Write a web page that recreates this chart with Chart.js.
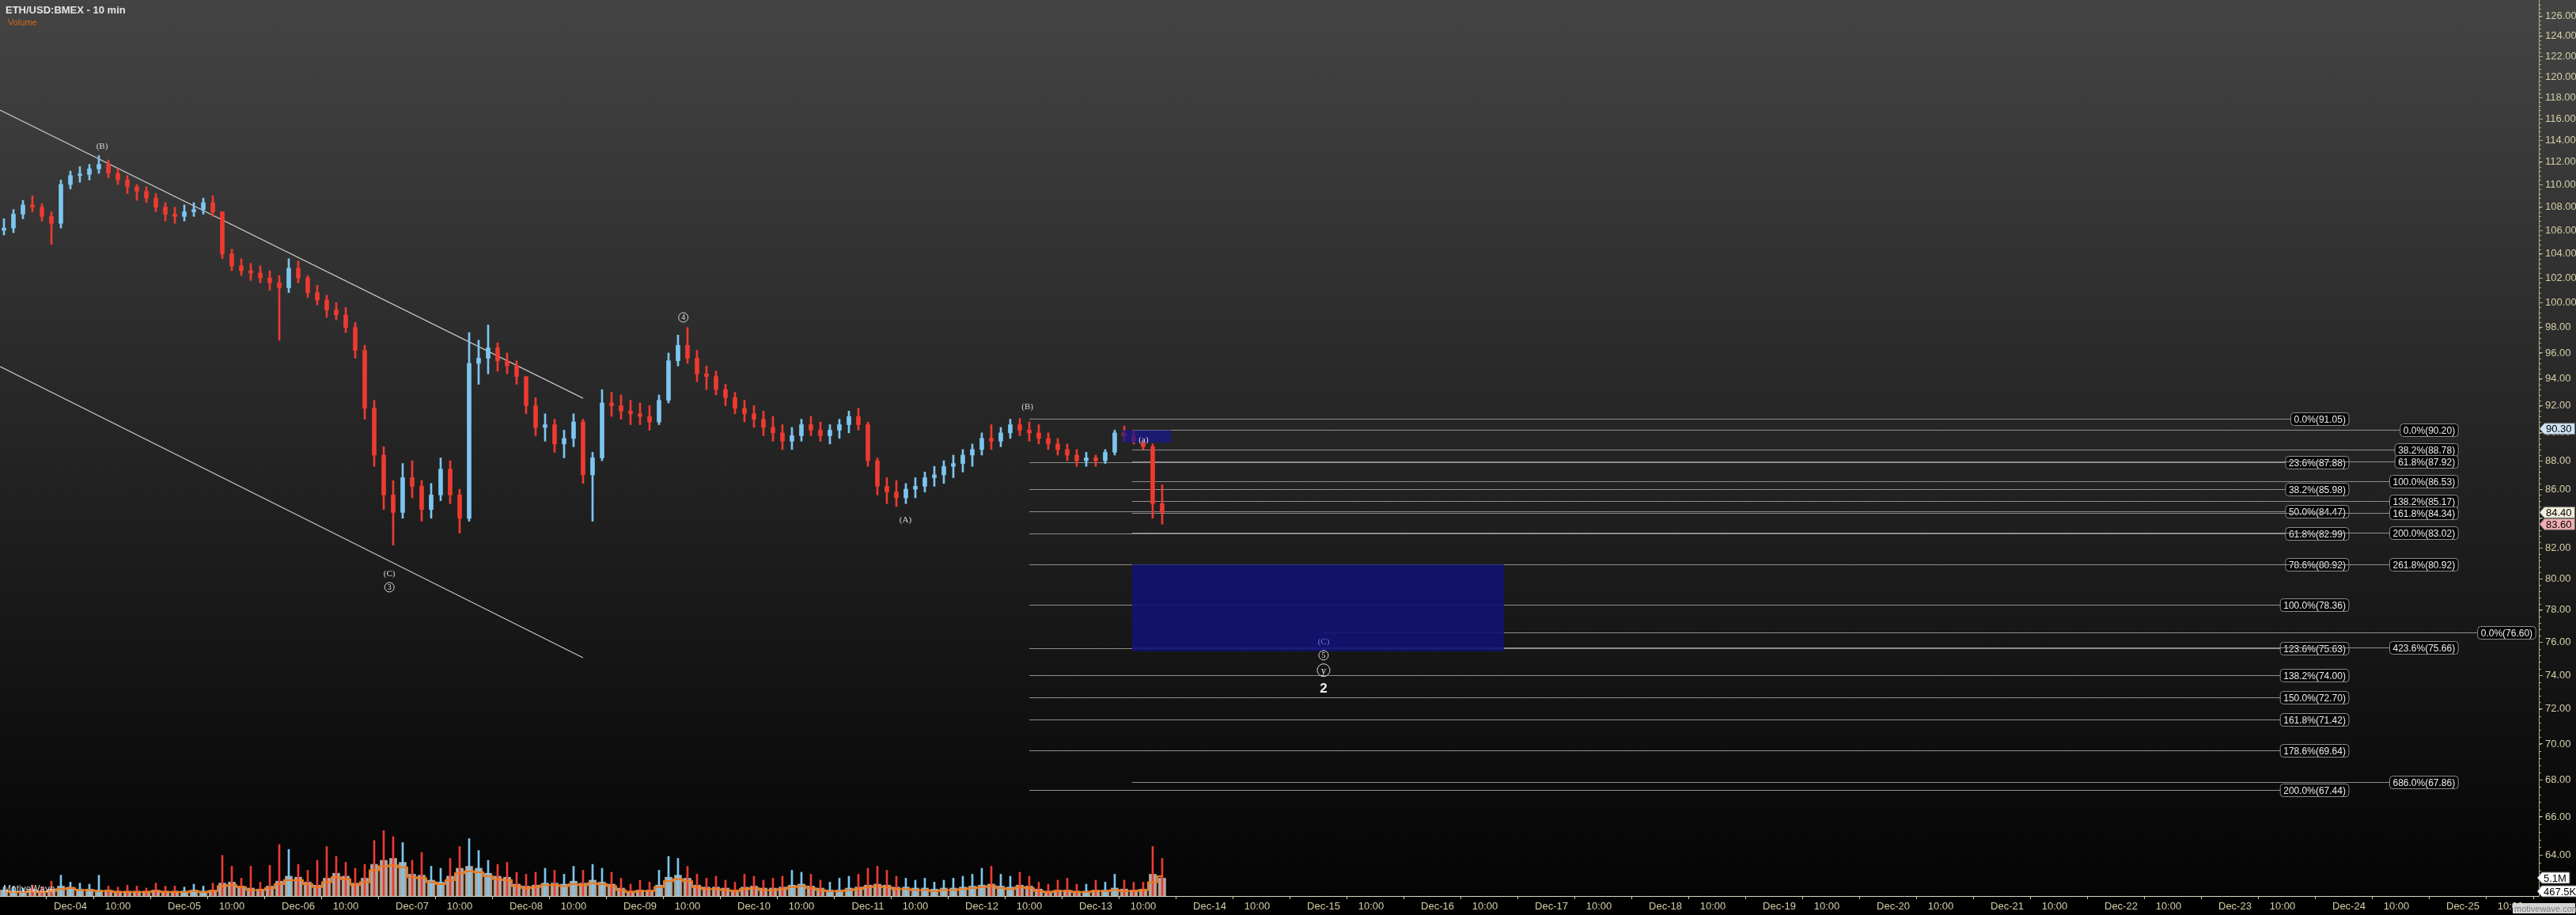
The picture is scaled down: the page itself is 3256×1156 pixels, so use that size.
<!DOCTYPE html>
<html>
<head>
<meta charset="utf-8">
<title>ETH/USD:BMEX - 10 min</title>
<script src="https://cdn.jsdelivr.net/npm/chart.js@4.4.1/dist/chart.umd.min.js"></script>
<style>
  html, body { margin: 0; padding: 0; background: #000; overflow: hidden; }
  canvas { display: block; width: 3256px; height: 1156px; }
</style>
</head>
<body>
<canvas id="chart" width="3256" height="1156"></canvas>
<script>
// time axis is counted in days from Dec-04 00:00; one bar = 2 hours, first bar Dec-03 10:00
const firstBarDay = -14 / 24;
const barStep = 2 / 24;
const firstOpen = 106.0;

// price (one row per day)
const priceHigh = [
  107.0, 107.8, 108.6, 109.0, 108.3, 107.6, 110.4,
  111.2, 111.6, 111.8, 112.6, 112.2, 111.4, 110.8, 110.0, 109.8, 109.2, 108.4, 108.0,
  108.2, 108.4, 108.8, 109.0, 107.6, 104.4, 103.6, 103.2, 103.0, 102.6, 102.2, 103.6,
  103.4, 102.2, 101.4, 100.6, 100.0, 99.6, 98.4, 96.6, 92.4, 89.0, 86.6, 87.8,
  88.0, 86.6, 86.4, 88.2, 88.0, 86.0, 97.6, 97.0, 98.2, 96.8, 96.0, 95.4,
  94.0, 92.6, 91.4, 91.0, 90.2, 91.4, 91.0, 88.6, 93.2, 93.0, 92.8, 92.4,
  92.2, 92.0, 92.8, 96.0, 97.4, 98.0, 96.2, 95.0, 94.6, 93.6, 93.0, 92.4,
  92.0, 91.6, 91.2, 90.6, 90.4, 91.0, 91.2, 90.8, 90.6, 91.0, 91.6, 91.8,
  90.8, 88.2, 86.8, 86.6, 86.4, 86.8, 87.2, 87.6, 88.0, 88.4, 88.8, 89.2,
  90.0, 90.6, 90.4, 91.0, 91.05, 90.8, 90.6, 90.0, 89.6, 89.2, 88.8, 88.6,
  88.4, 88.8, 90.2, 90.5, 90.2, 89.6, 89.2, 86.3
];
const priceLow = [
  105.6, 105.8, 107.0, 107.6, 106.8, 104.8, 106.2,
  109.6, 110.2, 110.4, 111.0, 110.6, 110.0, 109.2, 108.6, 108.4, 107.6, 106.8, 106.6,
  106.8, 107.2, 107.4, 107.2, 103.6, 102.6, 102.2, 101.8, 101.6, 101.0, 97.0, 100.8,
  101.6, 100.4, 99.8, 98.8, 98.6, 97.6, 95.6, 91.0, 87.6, 84.6, 82.2, 84.0,
  85.4, 83.8, 84.0, 85.2, 85.0, 83.0, 83.8, 93.6, 94.4, 94.6, 94.4, 93.6,
  91.4, 89.8, 89.4, 88.6, 88.2, 89.0, 86.4, 83.8, 88.0, 91.2, 91.0, 90.6,
  90.6, 90.2, 90.6, 92.2, 95.0, 95.2, 93.8, 93.2, 92.8, 92.0, 91.4, 90.8,
  90.4, 89.8, 89.4, 88.8, 88.8, 89.4, 89.8, 89.4, 89.2, 89.6, 90.0, 90.2,
  87.6, 85.6, 85.0, 84.8, 85.0, 85.4, 85.8, 86.2, 86.4, 86.8, 87.2, 87.6,
  88.4, 88.8, 89.0, 89.6, 89.8, 89.4, 89.2, 88.8, 88.4, 88.0, 87.6, 87.6,
  87.6, 87.8, 88.4, 89.4, 89.2, 88.8, 84.0, 83.6
];
const priceClose = [
  106.2, 107.4, 108.2, 108.0, 107.2, 106.6, 110.0,
  110.8, 110.9, 111.4, 111.8, 111.0, 110.4, 109.8, 109.4, 108.8, 108.0, 107.4, 107.2,
  107.6, 107.8, 108.4, 107.6, 104.0, 103.0, 102.6, 102.4, 102.0, 101.6, 101.2, 102.8,
  102.0, 100.8, 100.2, 99.4, 99.0, 98.0, 96.2, 91.8, 88.4, 85.6, 84.4, 86.8,
  86.2, 84.6, 85.6, 87.4, 85.6, 84.0, 95.2, 95.6, 96.4, 95.4, 95.0, 94.2,
  92.0, 90.4, 90.6, 89.2, 89.6, 90.8, 87.0, 88.2, 92.2, 92.0, 91.6, 91.4,
  91.2, 90.8, 92.4, 95.4, 96.6, 95.6, 94.4, 94.2, 93.2, 92.6, 91.8, 91.4,
  91.0, 90.4, 90.0, 89.4, 89.8, 90.6, 90.2, 89.8, 90.2, 90.6, 91.2, 90.6,
  88.0, 86.2, 85.8, 85.4, 86.0, 86.2, 86.8, 87.0, 87.6, 87.8, 88.4, 88.8,
  89.6, 89.4, 90.0, 90.6, 90.2, 90.0, 89.6, 89.2, 88.8, 88.4, 88.0, 88.2,
  88.0, 88.6, 90.0, 89.8, 89.4, 89.0, 85.0, 84.4
];

// volume in millions
const volumeBase = [
  0.6, 0.5, 0.5, 0.7, 0.5, 0.7, 1.0,
  0.9, 0.7, 0.7, 0.6, 0.6, 0.5, 0.5, 0.5, 0.5, 0.6, 0.5, 0.5,
  0.5, 0.6, 0.5, 0.6, 1.3, 1.4, 1.0, 0.8, 0.7, 1.0, 1.5, 2.0,
  1.9, 1.4, 1.1, 1.8, 2.3, 2.0, 1.3, 1.8, 3.2, 3.6, 3.8, 3.4,
  2.2, 2.1, 1.6, 1.4, 2.0, 2.8, 3.0, 2.8, 2.3, 2.0, 1.9, 1.2,
  1.0, 1.1, 1.3, 1.3, 1.2, 1.5, 1.3, 1.6, 1.4, 1.2, 0.8, 0.5,
  0.6, 0.6, 1.1, 1.9, 2.1, 1.8, 1.1, 0.9, 0.9, 0.8, 0.6, 0.9,
  1.0, 0.8, 0.8, 0.9, 1.1, 1.2, 1.0, 0.8, 0.6, 0.6, 0.8, 0.9,
  1.1, 1.2, 1.1, 0.9, 0.9, 0.8, 0.8, 0.7, 0.8, 0.8, 0.9, 1.0,
  1.1, 1.2, 1.0, 0.9, 1.1, 1.0, 0.7, 0.5, 0.6, 0.6, 0.5, 0.5,
  0.6, 0.6, 0.8, 0.7, 0.6, 0.7, 2.2, 1.8
];
const volumePeak = [
  0.9, 1.0, 0.8, 1.1, 0.9, 1.5, 2.1,
  1.4, 1.3, 1.2, 2.1, 1.0, 0.9, 1.1, 1.0, 0.8, 1.3, 1.0, 1.0,
  0.9, 1.2, 1.0, 1.3, 4.1, 3.0, 1.8, 3.0, 1.4, 3.1, 5.2, 4.7,
  3.2, 2.6, 3.6, 5.0, 4.0, 3.4, 2.8, 3.2, 5.6, 6.6, 6.0, 5.4,
  3.6, 4.4, 3.0, 2.8, 3.8, 5.0, 5.8, 4.6, 3.6, 3.2, 3.4, 2.4,
  2.2, 2.4, 2.8, 2.6, 2.2, 3.0, 2.6, 3.2, 2.8, 2.4, 1.8, 1.2,
  1.6, 1.4, 2.6, 4.0, 3.8, 3.0, 2.2, 1.8, 2.0, 1.6, 1.4, 2.2,
  2.0, 1.6, 1.8, 2.0, 2.6, 2.4, 2.2, 1.6, 1.4, 1.8, 2.0, 2.2,
  2.8, 3.0, 2.6, 2.0, 1.8, 1.6, 1.8, 1.4, 1.6, 1.8, 2.0, 2.2,
  2.8, 3.0, 2.2, 2.0, 2.4, 2.0, 1.4, 1.2, 1.6, 1.8, 1.2, 1.2,
  1.6, 1.4, 2.2, 1.6, 1.4, 1.4, 5.0, 3.8
];
const volumeAvg = [
  0.5, 0.4, 0.4, 0.5, 0.4, 0.5, 0.7,
  0.8, 0.6, 0.6, 0.5, 0.5, 0.4, 0.4, 0.4, 0.4, 0.5, 0.4, 0.4,
  0.4, 0.5, 0.4, 0.5, 1.0, 1.1, 0.9, 0.6, 0.6, 0.8, 1.2, 1.6,
  1.6, 1.2, 0.9, 1.4, 1.9, 1.7, 1.1, 1.4, 2.6, 3.0, 3.1, 2.9,
  1.9, 1.8, 1.4, 1.2, 1.6, 2.3, 2.5, 2.4, 2.0, 1.7, 1.6, 1.0,
  0.8, 0.9, 1.1, 1.1, 1.0, 1.2, 1.1, 1.3, 1.2, 1.0, 0.6, 0.4,
  0.5, 0.5, 0.9, 1.5, 1.7, 1.5, 0.9, 0.7, 0.7, 0.6, 0.5, 0.7,
  0.8, 0.6, 0.6, 0.7, 0.9, 1.0, 0.8, 0.6, 0.5, 0.5, 0.6, 0.7,
  0.9, 1.0, 0.9, 0.7, 0.7, 0.6, 0.6, 0.5, 0.6, 0.6, 0.7, 0.8,
  0.9, 1.0, 0.8, 0.7, 0.9, 0.8, 0.5, 0.4, 0.5, 0.5, 0.4, 0.4,
  0.5, 0.5, 0.6, 0.5, 0.5, 0.6, 1.4, 2.0
];

const dayLabels = [
  'Dec-04', 'Dec-05', 'Dec-06', 'Dec-07', 'Dec-08', 'Dec-09', 'Dec-10', 'Dec-11',
  'Dec-12', 'Dec-13', 'Dec-14', 'Dec-15', 'Dec-16', 'Dec-17', 'Dec-18', 'Dec-19',
  'Dec-20', 'Dec-21', 'Dec-22', 'Dec-23', 'Dec-24', 'Dec-25'
];
const priceTicks = [
  64, 66, 68, 70, 72, 74, 76, 78, 80, 82, 84, 86, 88, 90, 92, 94,
  96, 98, 100, 102, 104, 106, 108, 110, 112, 114, 116, 118, 120, 122, 124, 126
];

// fibonacci sets
const fibLeftPct = ['0.0%', '23.6%', '38.2%', '50.0%', '61.8%', '78.6%', '100.0%', '123.6%', '138.2%', '150.0%', '161.8%', '178.6%', '200.0%'];
const fibLeftVal = [91.05, 87.88, 85.98, 84.47, 82.99, 80.92, 78.36, 75.63, 74.00, 72.70, 71.42, 69.64, 67.44];
const fibRightPct = ['0.0%', '38.2%', '61.8%', '100.0%', '138.2%', '161.8%', '200.0%', '261.8%', '423.6%', '686.0%'];
const fibRightVal = [90.20, 88.78, 87.92, 86.53, 85.17, 84.34, 83.02, 80.92, 75.66, 67.86];
const fibTargetPct = ['0.0%'];
const fibTargetVal = [76.60];
const fibLeftFrom = 8.417, fibLeftLabelAt = 20.0;
const fibRightFrom = 9.32, fibRightLabelAt = 20.96;
const fibTargetFrom = 11.0, fibTargetLabelAt = 21.64;

// channel lines (day, price)
const channelUpper = [[-0.618, 116.82], [4.5, 92.56]];
const channelLower = [[-0.618, 94.96], [4.5, 75.05]];

// target zones
const targetBox = { from: 9.32, to: 12.583, high: 80.92, low: 75.45 };
const smallBox = { from: 9.236, to: 9.66, high: 90.20, low: 89.3 };

const waveLabels = [
  { text: '(B)', day: 0.278, value: 113.4, kind: 'plain' },
  { text: '(C)', day: 2.80, value: 80.3, kind: 'plain' },
  { text: '3', day: 2.80, value: 79.45, kind: 'circle' },
  { text: '4', day: 5.38, value: 98.8, kind: 'circle' },
  { text: '(A)', day: 7.33, value: 83.9, kind: 'plain' },
  { text: '(B)', day: 8.40, value: 91.9, kind: 'plain' },
  { text: '(a)', day: 9.42, value: 89.45, kind: 'plain' },
  { text: '(C)', day: 11.0, value: 76.0, kind: 'blue' },
  { text: '5', day: 11.0, value: 75.2, kind: 'circle' },
  { text: 'y', day: 11.0, value: 74.3, kind: 'bigcircle' },
  { text: '2', day: 11.0, value: 73.2, kind: 'bold' }
];

const priceTags = [
  { text: '90.30', value: 90.30, fill: '#cfe5f7' },
  { text: '84.40', value: 84.40, fill: '#f1eedb' },
  { text: '83.60', value: 83.60, fill: '#f3aeb0' }
];

const UP = '#7cc6f0';
const DOWN = '#ee3a30';
const FONT = "'Liberation Sans', Arial, sans-serif";
const SERIF = "'Liberation Serif', 'DejaVu Serif', serif";

const barDays = priceClose.map((_, i) => firstBarDay + i * barStep);
const priceOpen = priceClose.map((_, i) => (i === 0 ? firstOpen : priceClose[i - 1]));
const barColors = priceClose.map((c, i) => (c >= priceOpen[i] ? UP : DOWN));

const xTicks = [];
dayLabels.forEach((label, d) => {
  xTicks.push({ value: d, label });
  xTicks.push({ value: d + 10 / 24, label: '10:00' });
});

function roundRect(ctx, x, y, w, h, r) {
  ctx.beginPath();
  ctx.moveTo(x + r, y);
  ctx.lineTo(x + w - r, y);
  ctx.quadraticCurveTo(x + w, y, x + w, y + r);
  ctx.lineTo(x + w, y + h - r);
  ctx.quadraticCurveTo(x + w, y + h, x + w - r, y + h);
  ctx.lineTo(x + r, y + h);
  ctx.quadraticCurveTo(x, y + h, x, y + h - r);
  ctx.lineTo(x, y + r);
  ctx.quadraticCurveTo(x, y, x + r, y);
  ctx.closePath();
}

function drawFibSet(ctx, xs, ys, pcts, vals, fromDay, labelDay) {
  const x0 = xs.getPixelForValue(fromDay);
  const xr = xs.getPixelForValue(labelDay);
  ctx.font = `12px ${FONT}`;
  vals.forEach((v, i) => {
    const y = Math.round(ys.getPixelForValue(v)) + 0.5;
    const text = `${pcts[i]}(${v.toFixed(2)})`;
    const w = ctx.measureText(text).width + 8;
    ctx.strokeStyle = '#8e8e8e';
    ctx.lineWidth = 1.2;
    ctx.beginPath();
    ctx.moveTo(x0, y);
    ctx.lineTo(xr - w, y);
    ctx.stroke();
    roundRect(ctx, xr - w, y - 8, w, 16, 4);
    ctx.fillStyle = '#060606';
    ctx.fill();
    ctx.strokeStyle = '#8a8a8a';
    ctx.lineWidth = 1;
    ctx.stroke();
    ctx.fillStyle = '#ececec';
    ctx.textAlign = 'center';
    ctx.textBaseline = 'middle';
    ctx.fillText(text, xr - w / 2, y + 1);
  });
}

function drawTag(ctx, x0, cy, text, fill) {
  ctx.font = `13px ${FONT}`;
  const w = ctx.measureText(text).width + 12;
  ctx.beginPath();
  ctx.moveTo(x0, cy);
  ctx.lineTo(x0 + 6, cy - 7);
  ctx.lineTo(x0 + w, cy - 7);
  ctx.lineTo(x0 + w, cy + 7);
  ctx.lineTo(x0 + 6, cy + 7);
  ctx.closePath();
  ctx.fillStyle = fill;
  ctx.fill();
  ctx.strokeStyle = '#6f6f6f';
  ctx.lineWidth = 1;
  ctx.stroke();
  ctx.fillStyle = '#000';
  ctx.textAlign = 'left';
  ctx.textBaseline = 'middle';
  ctx.fillText(text, x0 + 8, cy + 1);
}

const decorations = {
  id: 'decorations',
  beforeDraw(chart) {
    const { ctx, width, height } = chart;
    const g = ctx.createLinearGradient(0, 0, 0, chart.chartArea.bottom);
    g.addColorStop(0, '#444444');
    g.addColorStop(1, '#040404');
    ctx.save();
    ctx.fillStyle = g;
    ctx.fillRect(0, 0, width, height);
    ctx.fillStyle = '#000';
    ctx.fillRect(0, chart.chartArea.bottom, width, height - chart.chartArea.bottom);
    ctx.restore();
  },
  beforeDatasetsDraw(chart) {
    const { ctx, chartArea: a } = chart;
    const xs = chart.scales.x, ys = chart.scales.y;
    ctx.save();
    ctx.beginPath();
    ctx.rect(a.left, a.top, a.right - a.left, a.bottom - a.top);
    ctx.clip();
    // trend channel
    ctx.strokeStyle = '#c4c4c4';
    ctx.lineWidth = 1.3;
    [channelUpper, channelLower].forEach((ln) => {
      ctx.beginPath();
      ctx.moveTo(xs.getPixelForValue(ln[0][0]), ys.getPixelForValue(ln[0][1]));
      ctx.lineTo(xs.getPixelForValue(ln[1][0]), ys.getPixelForValue(ln[1][1]));
      ctx.stroke();
    });
    drawFibSet(ctx, xs, ys, fibLeftPct, fibLeftVal, fibLeftFrom, fibLeftLabelAt);
    drawFibSet(ctx, xs, ys, fibRightPct, fibRightVal, fibRightFrom, fibRightLabelAt);
    drawFibSet(ctx, xs, ys, fibTargetPct, fibTargetVal, fibTargetFrom, fibTargetLabelAt);
    // target zone
    const bx = xs.getPixelForValue(targetBox.from);
    const bw = xs.getPixelForValue(targetBox.to) - bx;
    const by = ys.getPixelForValue(targetBox.high);
    const bh = ys.getPixelForValue(targetBox.low) - by;
    ctx.fillStyle = 'rgba(18, 18, 116, 0.9)';
    ctx.fillRect(bx, by, bw, bh);
    ctx.restore();
  },
  afterDatasetsDraw(chart) {
    const { ctx, chartArea: a } = chart;
    const xs = chart.scales.x, ys = chart.scales.y;
    ctx.save();
    // small box over the last swing
    const sx = xs.getPixelForValue(smallBox.from);
    const sw = xs.getPixelForValue(smallBox.to) - sx;
    const sy = ys.getPixelForValue(smallBox.high);
    const sh = ys.getPixelForValue(smallBox.low) - sy;
    ctx.fillStyle = 'rgba(24, 24, 140, 0.75)';
    ctx.fillRect(sx, sy, sw, sh);

    // wave labels
    waveLabels.forEach((w) => {
      const x = xs.getPixelForValue(w.day);
      const y = ys.getPixelForValue(w.value);
      ctx.textAlign = 'center';
      ctx.textBaseline = 'middle';
      if (w.kind === 'plain' || w.kind === 'blue') {
        ctx.font = `11px ${SERIF}`;
        ctx.fillStyle = w.kind === 'blue' ? '#7070e8' : '#d6d6d6';
        ctx.fillText(w.text, x, y);
      } else if (w.kind === 'circle' || w.kind === 'bigcircle') {
        const r = w.kind === 'bigcircle' ? 8 : 6;
        ctx.beginPath();
        ctx.arc(x, y, r, 0, Math.PI * 2);
        ctx.strokeStyle = '#d6d6d6';
        ctx.lineWidth = 1;
        ctx.stroke();
        ctx.font = `${w.kind === 'bigcircle' ? 13 : 10}px ${SERIF}`;
        ctx.fillStyle = '#e2e2e2';
        ctx.fillText(w.text, x, y + 0.5);
      } else {
        ctx.font = `bold 17px ${FONT}`;
        ctx.fillStyle = '#f2f2f2';
        ctx.fillText(w.text, x, y);
      }
    });

    // minor ticks on the price axis
    ctx.strokeStyle = '#b3ad8a';
    ctx.lineWidth = 1;
    for (let v = 62.4; v < 127.6; v += 0.4) {
      const y = Math.round(ys.getPixelForValue(v)) + 0.5;
      ctx.beginPath();
      ctx.moveTo(a.right, y);
      ctx.lineTo(a.right + 3, y);
      ctx.stroke();
    }

    // last price tags
    priceTags.forEach((t) => drawTag(ctx, a.right + 1, ys.getPixelForValue(t.value), t.text, t.fill));
    drawTag(ctx, a.right - 2, a.bottom - 23, '5.1M', '#ffffff');
    drawTag(ctx, a.right - 2, a.bottom - 6, '467.5K', '#ffffff');

    // header
    ctx.textAlign = 'left';
    ctx.textBaseline = 'alphabetic';
    ctx.font = `bold 13px ${FONT}`;
    ctx.fillStyle = '#e4e4e4';
    ctx.fillText('ETH/USD:BMEX - 10 min', 7, 17);
    ctx.font = `11px ${FONT}`;
    ctx.fillStyle = '#d2691e';
    ctx.fillText('Volume', 10, 32);

    // watermarks
    ctx.font = `12px ${FONT}`;
    ctx.fillStyle = 'rgba(235, 235, 235, 0.85)';
    ctx.fillText('MotiveWave', 4, a.bottom - 5);
    ctx.fillStyle = '#d4d4d4';
    ctx.fillRect(3176, 1141, 79, 13);
    ctx.fillStyle = '#7c7c7c';
    ctx.font = `11px ${FONT}`;
    ctx.fillText('motivewave.com', 3178, 1152);
    ctx.restore();
  }
};

new Chart(document.getElementById('chart').getContext('2d'), {
  type: 'bar',
  data: {
    datasets: [
      {
        type: 'line',
        data: barDays.map((d, i) => ({ x: d, y: volumeAvg[i] })),
        yAxisID: 'yVol',
        borderWidth: 0,
        pointRadius: 0,
        fill: 'origin',
        backgroundColor: 'rgba(72, 32, 4, 0.92)',
        stepped: 'middle',
        order: 10
      },
      {
        data: barDays.map((d, i) => ({ x: d, y: volumeBase[i] })),
        yAxisID: 'yVol',
        backgroundColor: '#aeaaa2',
        barThickness: 9,
        grouped: false,
        order: 9
      },
      {
        data: barDays.map((d, i) => ({ x: d, y: volumePeak[i] })),
        yAxisID: 'yVol',
        backgroundColor: barColors,
        barThickness: 2,
        grouped: false,
        order: 8
      },
      {
        type: 'line',
        data: barDays.map((d, i) => ({ x: d, y: volumeAvg[i] })),
        yAxisID: 'yVol',
        borderColor: '#f07818',
        borderWidth: 2,
        pointRadius: 0,
        fill: false,
        stepped: 'middle',
        order: 7
      },
      {
        data: barDays.map((d, i) => ({ x: d, y: [priceLow[i], priceHigh[i]] })),
        yAxisID: 'y',
        backgroundColor: barColors,
        barThickness: 2,
        grouped: false,
        order: 6
      },
      {
        data: barDays.map((d, i) => ({ x: d, y: [priceOpen[i], priceClose[i]] })),
        yAxisID: 'y',
        backgroundColor: barColors,
        barThickness: 5,
        minBarLength: 2,
        grouped: false,
        order: 5
      }
    ]
  },
  options: {
    responsive: false,
    devicePixelRatio: 1,
    animation: false,
    layout: { padding: 0 },
    plugins: {
      legend: { display: false },
      tooltip: { enabled: false },
      title: { display: false }
    },
    scales: {
      x: {
        type: 'linear',
        min: -0.618,
        max: 21.667,
        offset: false,
        afterBuildTicks(scale) {
          scale.ticks = xTicks.map((t) => ({ value: t.value }));
        },
        afterFit(scale) {
          scale.height = 24;
          scale.paddingLeft = 0;
          scale.paddingRight = 0;
        },
        ticks: {
          autoSkip: false,
          maxRotation: 0,
          padding: 2,
          color: '#d3cea6',
          font: { family: FONT, size: 13 },
          callback(value) {
            const t = xTicks.find((k) => Math.abs(k.value - value) < 1e-6);
            return t ? t.label : '';
          }
        },
        grid: {
          drawOnChartArea: false,
          tickLength: 4,
          color: '#cfcab0'
        },
        border: { color: '#dcd8c6', width: 1 }
      },
      y: {
        type: 'logarithmic',
        position: 'right',
        min: 61.91,
        max: 127.68,
        afterBuildTicks(scale) {
          scale.ticks = priceTicks.map((v) => ({ value: v }));
        },
        afterFit(scale) {
          scale.width = 47;
          scale.paddingTop = 0;
          scale.paddingBottom = 0;
        },
        ticks: {
          autoSkip: false,
          padding: 3,
          color: '#d3cea6',
          font: { family: FONT, size: 13 },
          callback(value) {
            return Number(value).toFixed(2);
          }
        },
        grid: {
          drawOnChartArea: false,
          tickLength: 5,
          color: '#b3ad8a'
        },
        border: { color: '#b3ad8a', width: 1 }
      },
      yVol: {
        type: 'linear',
        display: false,
        min: 0,
        max: 90.5
      }
    }
  },
  plugins: [decorations]
});
</script>
</body>
</html>
